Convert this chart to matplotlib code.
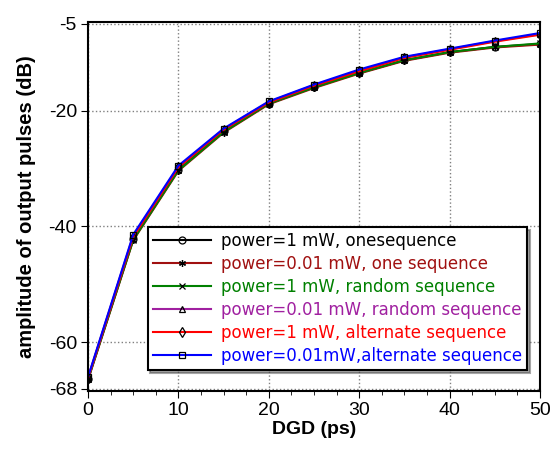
import numpy as np
import matplotlib.pyplot as plt
from matplotlib.ticker import MultipleLocator

plt.rcParams['font.family'] = ['Liberation Sans', 'DejaVu Sans']
plt.rcParams['axes.unicode_minus'] = False

# DGD values (ps)
dgd = [0, 5, 10, 15, 20, 25, 30, 35, 40, 45, 50]

# amplitude of output pulses (dB)
p1_one = [-66.3, -42.2, -30.2, -23.6, -18.8, -15.9, -13.5, -11.3, -9.9, -9.0, -8.5]
p001_one = [-66.5, -42.4, -30.4, -23.8, -18.9, -16.1, -13.6, -11.4, -10.0, -9.1, -8.6]
p1_rand = [-66.4, -42.3, -30.3, -23.7, -18.8, -16.0, -13.5, -11.3, -9.9, -9.0, -8.4]
p001_rand = [-66.1, -41.6, -29.7, -23.2, -18.5, -15.6, -13.1, -10.8, -9.4, -8.0, -6.8]
p1_alt = [-66.2, -41.8, -29.8, -23.3, -18.6, -15.7, -13.2, -10.9, -9.5, -8.1, -6.9]
p001_alt = [-66.0, -41.4, -29.5, -23.1, -18.4, -15.5, -12.9, -10.7, -9.3, -7.9, -6.6]

labels = ['power=1 mW, onesequence',
          'power=0.01 mW, one sequence',
          'power=1 mW, random sequence',
          'power=0.01 mW, random sequence',
          'power=1 mW, alternate sequence',
          'power=0.01mW,alternate sequence']
colors = ['black', '#a01010', 'green', '#a020a0', 'red', 'blue']
markers = ['o', (6, 2, 0), 'x', '^', 'd', 's']
series = [p1_one, p001_one, p1_rand, p001_rand, p1_alt, p001_alt]

fig = plt.figure(figsize=(5.5, 4.53), dpi=100)
ax = fig.add_axes([88 / 550, 1 - 391 / 453, 452 / 550, 369 / 453])

for y, c, m, lab in zip(series, colors, markers, labels):
    ax.plot(dgd, y, color=c, marker=m, markersize=5, markerfacecolor='none',
            markeredgecolor='black', markeredgewidth=0.9,
            linewidth=1.5, label=lab)

ax.set_xlim(0, 50)
ax.set_ylim(-68.4, -4.7)
ax.set_xticks([0, 10, 20, 30, 40, 50])
ax.xaxis.set_minor_locator(MultipleLocator(2.5))
ax.set_yticks([-68, -60, -40, -20, -5])
ax.tick_params(axis='both', labelsize=14, direction='out', length=5, pad=3)
ax.tick_params(axis='x', which='minor', direction='out', length=3)
ax.grid(True, which='major', linestyle=':', color='gray', linewidth=1.0)
for s in ax.spines.values():
    s.set_linewidth(1.5)

ax.set_xlabel('DGD (ps)', fontsize=14, fontweight='bold', labelpad=1)
ax.set_ylabel('amplitude of output pulses (dB)', fontsize=14.5, fontweight='bold', labelpad=9)

leg = ax.legend(loc='lower right', bbox_to_anchor=(0.99, 0.035),
                prop={'family': 'DejaVu Sans', 'size': 12},
                fancybox=False, shadow=True, framealpha=1, edgecolor='black',
                handlelength=3.5, borderpad=0.3, labelspacing=0.3, handletextpad=0.6)
leg.get_frame().set_linewidth(1.5)
for t, c in zip(leg.get_texts(), colors):
    t.set_color(c)

fig.savefig('out.png', dpi=100)
